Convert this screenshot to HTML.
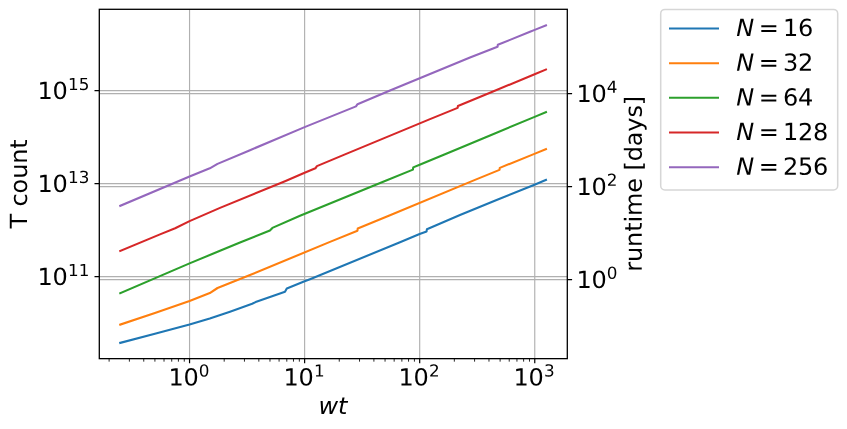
<!DOCTYPE html>
<html><head><meta charset="utf-8"><title>T count vs wt</title>
<style>html,body{margin:0;padding:0;background:#fff}</style></head>
<body>
<svg width="847" height="429" viewBox="0 0 847 429" style="display:block">
<rect width="847" height="429" fill="#fff"/>
<path d="M189.55 9.3V358.65M304.62 9.3V358.65M419.69 9.3V358.65M534.76 9.3V358.65M99.3 90.62H567.3M99.3 183.62H567.3M99.3 276.62H567.3M99.3 93.6H567.3M99.3 186.6H567.3M99.3 279.6H567.3" stroke="#b0b0b0" stroke-width="1.15" fill="none"/>
<svg x="99.3" y="9.3" width="468.00" height="349.35" viewBox="99.3 9.3 468.00 349.35">
<path d="M120.27 342.85 L154.91 333.85 L189.55 324.60 L209.81 318.50 L230.00 311.70 L252.16 303.80 L255.60 302.10 L280.00 293.40 L284.98 291.75 L286.80 288.50 L304.60 281.30 L310.00 279.20 L400.00 242.25 L419.60 234.05 L426.60 231.40 L426.90 229.30 L460.00 214.95 L496.60 200.00 L534.50 184.75 L545.95 179.85" stroke="#1f77b4" stroke-width="2.1" fill="none" stroke-linecap="square" stroke-linejoin="round"/>
<path d="M120.27 324.60 L154.91 312.90 L189.55 301.05 L209.81 293.10 L217.52 288.00 L250.00 275.00 L330.00 241.90 L357.45 230.70 L357.75 228.50 L390.00 215.20 L475.00 179.85 L499.50 169.90 L499.80 167.85 L535.00 153.60 L545.95 149.10" stroke="#ff7f0e" stroke-width="2.1" fill="none" stroke-linecap="square" stroke-linejoin="round"/>
<path d="M120.27 293.20 L189.55 263.35 L220.00 250.80 L240.00 242.55 L269.90 230.50 L272.40 227.90 L300.00 215.80 L385.00 181.00 L412.95 169.65 L413.25 167.40 L419.65 164.75 L445.00 154.20 L490.00 135.45 L534.60 116.85 L545.95 112.20" stroke="#2ca02c" stroke-width="2.1" fill="none" stroke-linecap="square" stroke-linejoin="round"/>
<path d="M120.27 251.00 L160.00 234.40 L175.17 228.30 L189.55 221.10 L220.00 207.90 L285.00 181.20 L304.60 172.70 L315.40 168.30 L316.90 166.10 L345.00 154.40 L430.00 119.10 L457.65 107.90 L457.95 106.00 L490.00 92.80 L534.60 74.20 L545.95 69.50" stroke="#d62728" stroke-width="2.1" fill="none" stroke-linecap="square" stroke-linejoin="round"/>
<path d="M120.27 205.75 L189.55 176.50 L209.81 168.30 L217.52 163.90 L250.00 150.20 L304.60 127.10 L330.00 116.90 L356.00 106.40 L357.50 104.20 L390.00 90.50 L470.00 57.55 L497.55 46.75 L497.85 44.75 L510.00 39.85 L530.00 31.80 L534.70 29.90 L545.95 25.40" stroke="#9467bd" stroke-width="2.1" fill="none" stroke-linecap="square" stroke-linejoin="round"/>
</svg>
<path d="M189.55 358.65v4.67M304.62 358.65v4.67M419.69 358.65v4.67M534.76 358.65v4.67M99.3 90.6h-4.8M99.3 183.6h-4.8M99.3 276.6h-4.8M567.3 93.6h4.8M567.3 186.6h4.8M567.3 279.6h4.8" stroke="#000" stroke-width="1.2" fill="none"/>
<path d="M109.12 358.65v3.0M129.38 358.65v3.0M143.76 358.65v3.0M154.91 358.65v3.0M164.02 358.65v3.0M171.73 358.65v3.0M178.40 358.65v3.0M184.28 358.65v3.0M224.19 358.65v3.0M244.45 358.65v3.0M258.83 358.65v3.0M269.98 358.65v3.0M279.09 358.65v3.0M286.80 358.65v3.0M293.47 358.65v3.0M299.35 358.65v3.0M339.26 358.65v3.0M359.52 358.65v3.0M373.90 358.65v3.0M385.05 358.65v3.0M394.16 358.65v3.0M401.87 358.65v3.0M408.54 358.65v3.0M414.42 358.65v3.0M454.33 358.65v3.0M474.59 358.65v3.0M488.97 358.65v3.0M500.12 358.65v3.0M509.23 358.65v3.0M516.94 358.65v3.0M523.61 358.65v3.0M529.49 358.65v3.0" stroke="#000" stroke-width="0.85" fill="none"/>
<rect x="99.3" y="9.3" width="468.00" height="349.35" fill="none" stroke="#000" stroke-width="1.3"/>
<text transform="translate(168.40 385.50) rotate(0.03) scale(1 0.985)" font-family="DejaVu Sans, Liberation Sans, sans-serif" font-size="24" letter-spacing="-0.27">10<tspan dy="-9.14" dx="0.45" font-size="16.8" letter-spacing="0">0</tspan></text>
<text transform="translate(283.47 385.50) rotate(0.03) scale(1 0.985)" font-family="DejaVu Sans, Liberation Sans, sans-serif" font-size="24" letter-spacing="-0.27">10<tspan dy="-9.14" dx="0.45" font-size="16.8" letter-spacing="0">1</tspan></text>
<text transform="translate(398.54 385.50) rotate(0.03) scale(1 0.985)" font-family="DejaVu Sans, Liberation Sans, sans-serif" font-size="24" letter-spacing="-0.27">10<tspan dy="-9.14" dx="0.45" font-size="16.8" letter-spacing="0">2</tspan></text>
<text transform="translate(513.61 385.50) rotate(0.03) scale(1 0.985)" font-family="DejaVu Sans, Liberation Sans, sans-serif" font-size="24" letter-spacing="-0.27">10<tspan dy="-9.14" dx="0.45" font-size="16.8" letter-spacing="0">3</tspan></text>
<text transform="translate(37.60 99.00) rotate(0.03) scale(1 0.985)" font-family="DejaVu Sans, Liberation Sans, sans-serif" font-size="24" letter-spacing="-0.27">10<tspan dy="-9.14" dx="0.45" font-size="16.8" letter-spacing="0">15</tspan></text>
<text transform="translate(37.60 192.00) rotate(0.03) scale(1 0.985)" font-family="DejaVu Sans, Liberation Sans, sans-serif" font-size="24" letter-spacing="-0.27">10<tspan dy="-9.14" dx="0.45" font-size="16.8" letter-spacing="0">13</tspan></text>
<text transform="translate(37.60 285.00) rotate(0.03) scale(1 0.985)" font-family="DejaVu Sans, Liberation Sans, sans-serif" font-size="24" letter-spacing="-0.27">10<tspan dy="-9.14" dx="0.45" font-size="16.8" letter-spacing="0">11</tspan></text>
<text transform="translate(576.40 102.00) rotate(0.03) scale(1 0.985)" font-family="DejaVu Sans, Liberation Sans, sans-serif" font-size="24" letter-spacing="-0.27">10<tspan dy="-9.44" dx="0.45" font-size="16.8" letter-spacing="0">4</tspan></text>
<text transform="translate(576.40 195.00) rotate(0.03) scale(1 0.985)" font-family="DejaVu Sans, Liberation Sans, sans-serif" font-size="24" letter-spacing="-0.27">10<tspan dy="-9.44" dx="0.45" font-size="16.8" letter-spacing="0">2</tspan></text>
<text transform="translate(576.40 288.00) rotate(0.03) scale(1 0.985)" font-family="DejaVu Sans, Liberation Sans, sans-serif" font-size="24" letter-spacing="-0.27">10<tspan dy="-9.44" dx="0.45" font-size="16.8" letter-spacing="0">0</tspan></text>
<text transform="translate(318.4 413.9) rotate(0.03) scale(1 0.985)" font-family="DejaVu Sans, Liberation Sans, sans-serif" font-size="24" font-style="italic">wt</text>
<text transform="translate(26.9 183.95) rotate(-89.97) scale(1 0.985)" text-anchor="middle" font-family="DejaVu Sans, Liberation Sans, sans-serif" font-size="24" letter-spacing="-0.14">T count</text>
<text transform="translate(641.7 183.85) rotate(-89.97) scale(1 0.985)" text-anchor="middle" font-family="DejaVu Sans, Liberation Sans, sans-serif" font-size="24" letter-spacing="-0.12">runtime [days]</text>
<rect x="660.7" y="9.4" width="177" height="180.5" rx="4.2" fill="#fff" fill-opacity="0.8" stroke="#ccc" stroke-opacity="0.8" stroke-width="1.5"/>
<path d="M670 28.45h48" stroke="#1f77b4" stroke-width="2" stroke-linecap="square"/>
<text transform="translate(736.2 36.00) rotate(0.03) scale(1 0.985)" font-family="DejaVu Sans, Liberation Sans, sans-serif" font-size="24"><tspan x="0" font-style="italic">N</tspan><tspan x="22.65">=</tspan><tspan x="46.8" letter-spacing="-0.27">16</tspan></text>
<path d="M670 63.15h48" stroke="#ff7f0e" stroke-width="2" stroke-linecap="square"/>
<text transform="translate(736.2 70.70) rotate(0.03) scale(1 0.985)" font-family="DejaVu Sans, Liberation Sans, sans-serif" font-size="24"><tspan x="0" font-style="italic">N</tspan><tspan x="22.65">=</tspan><tspan x="46.8" letter-spacing="-0.27">32</tspan></text>
<path d="M670 97.85h48" stroke="#2ca02c" stroke-width="2" stroke-linecap="square"/>
<text transform="translate(736.2 105.40) rotate(0.03) scale(1 0.985)" font-family="DejaVu Sans, Liberation Sans, sans-serif" font-size="24"><tspan x="0" font-style="italic">N</tspan><tspan x="22.65">=</tspan><tspan x="46.8" letter-spacing="-0.27">64</tspan></text>
<path d="M670 132.55h48" stroke="#d62728" stroke-width="2" stroke-linecap="square"/>
<text transform="translate(736.2 140.10) rotate(0.03) scale(1 0.985)" font-family="DejaVu Sans, Liberation Sans, sans-serif" font-size="24"><tspan x="0" font-style="italic">N</tspan><tspan x="22.65">=</tspan><tspan x="46.8" letter-spacing="-0.27">128</tspan></text>
<path d="M670 167.25h48" stroke="#9467bd" stroke-width="2" stroke-linecap="square"/>
<text transform="translate(736.2 174.80) rotate(0.03) scale(1 0.985)" font-family="DejaVu Sans, Liberation Sans, sans-serif" font-size="24"><tspan x="0" font-style="italic">N</tspan><tspan x="22.65">=</tspan><tspan x="46.8" letter-spacing="-0.27">256</tspan></text>
</svg>
</body></html>
